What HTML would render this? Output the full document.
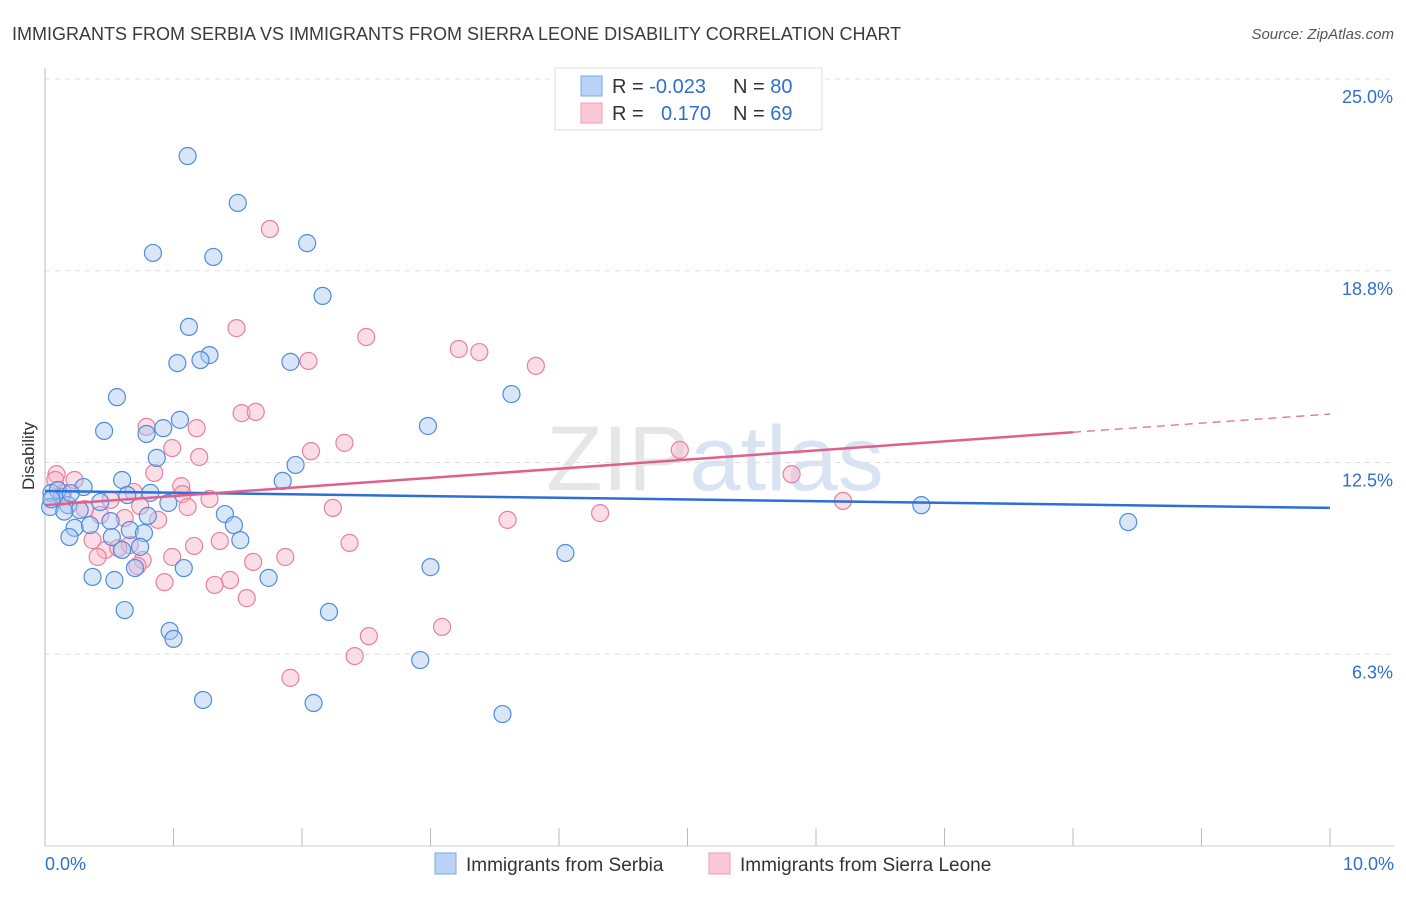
<!DOCTYPE html>
<html><head><meta charset="utf-8"><style>
body{margin:0;background:#fff;font-family:"Liberation Sans",sans-serif}
svg text{font-family:"Liberation Sans",sans-serif}
</style></head><body>
<svg id="chart" width="1406" height="892" xmlns="http://www.w3.org/2000/svg">
<text x="12" y="40" font-size="18" fill="#3a3a3a">IMMIGRANTS FROM SERBIA VS IMMIGRANTS FROM SIERRA LEONE DISABILITY CORRELATION CHART</text>
<text x="1394" y="39" font-size="15" fill="#555" font-style="italic" text-anchor="end">Source: ZipAtlas.com</text>
<text x="715" y="490" font-size="92" text-anchor="middle" fill="#e6e6e6" font-family="Liberation Serif"><tspan>ZIP</tspan><tspan fill="#d8e4f4" font-family="Liberation Sans">atlas</tspan></text>
<g id="grid"></g>
<g id="axes"></g>
<g id="pts"></g>
<g id="trend"></g>
<text transform="translate(34,456) rotate(-90)" font-size="17" fill="#333" text-anchor="middle">Disability</text>
<g>
<rect x="555" y="68" width="267" height="62" fill="#fff" stroke="#ddd"/>
<rect x="581" y="76" width="21" height="20" fill="#b8d3f5" stroke="#7aaae6"/>
<rect x="581" y="103" width="21" height="20" fill="#fbc8d6" stroke="#f09ab4"/>
<text x="612" y="93" font-size="20" fill="#333">R = <tspan fill="#2f6fd0">-0.023</tspan><tspan x="733">N = </tspan><tspan fill="#2f6fd0">80</tspan></text>
<text x="612" y="120" font-size="20" fill="#333">R = <tspan x="661" fill="#2f6fd0">0.170</tspan><tspan x="733">N = </tspan><tspan fill="#2f6fd0">69</tspan></text>
</g>
<g>
<rect x="435" y="853" width="21" height="21" fill="#b8d3f5" stroke="#7aaae6"/>
<text x="466" y="871" font-size="19" fill="#333">Immigrants from Serbia</text>
<rect x="709" y="853" width="21" height="21" fill="#fbc8d6" stroke="#f09ab4"/>
<text x="740" y="871" font-size="19" fill="#333">Immigrants from Sierra Leone</text>
</g>
</svg>
<script>
const blueX=[1.11,1.50,2.04,0.84,1.31,2.16,1.12,1.28,1.21,1.03,1.91,0.56,3.63,1.05,0.46,2.98,0.92,0.79,0.87,1.95,0.60,1.85,0.30,0.64,0.82,0.13,0.05,0.43,0.96,0.04,0.18,0.27,0.51,0.80,1.40,0.23,0.35,0.66,1.47,0.19,0.52,0.77,1.52,0.74,0.60,4.05,1.08,0.70,3.00,0.37,0.54,1.74,0.62,2.21,0.97,1.00,2.92,1.23,2.09,3.56,6.82,8.43,0.10,0.05,0.20,0.15];
const blueY=[22.49,20.96,19.65,19.33,19.20,17.93,16.92,16.00,15.84,15.74,15.78,14.63,14.73,13.89,13.53,13.69,13.62,13.43,12.65,12.42,11.93,11.90,11.70,11.44,11.51,11.38,11.51,11.21,11.18,11.05,11.11,10.95,10.59,10.76,10.82,10.37,10.46,10.30,10.46,10.07,10.07,10.20,9.97,9.75,9.65,9.55,9.06,9.06,9.09,8.77,8.67,8.74,7.69,7.63,7.01,6.75,6.06,4.76,4.66,4.30,11.11,10.56,11.60,11.30,11.50,10.90];
const pinkX=[1.75,1.49,2.50,3.22,3.38,2.05,3.82,1.53,1.64,0.79,1.18,2.33,0.99,2.07,1.20,4.94,0.09,0.85,0.23,5.81,1.06,0.69,1.07,1.28,0.51,6.21,0.14,2.24,1.11,0.74,0.31,4.32,0.88,3.60,0.62,0.43,0.37,0.66,1.36,2.37,1.16,0.47,0.57,1.62,1.87,0.99,0.76,0.41,1.44,1.32,0.93,0.72,1.57,3.09,2.52,2.41,1.91,0.08];
const pinkY=[20.11,16.88,16.59,16.20,16.10,15.81,15.65,14.11,14.15,13.66,13.62,13.14,12.97,12.87,12.68,12.91,12.12,12.16,11.93,12.12,11.73,11.54,11.47,11.31,11.28,11.25,11.51,11.02,11.05,11.08,10.98,10.85,10.63,10.63,10.69,10.79,9.97,9.81,9.94,9.88,9.78,9.65,9.71,9.26,9.42,9.42,9.32,9.42,8.67,8.51,8.60,9.13,8.08,7.14,6.84,6.19,5.48,11.93];
const yTicks=[6.25,12.5,18.75,25];
const yTickLabels=["6.3%","12.5%","18.8%","25.0%"];
const blueTrend=[11.57,11.02];
const pinkTrend=[11.11,14.08];
const NS="http://www.w3.org/2000/svg";
const sx=v=>45+v*128.5, sy=v=>846-v*30.68;
function mk(t,a,p){const e=document.createElementNS(NS,t);for(const k in a)e.setAttribute(k,a[k]);p.appendChild(e);return e;}
const grid=document.getElementById('grid'),axes=document.getElementById('axes'),pts=document.getElementById('pts'),tr=document.getElementById('trend');
yTicks.forEach((t,i)=>{
 const l=mk('line',{x1:45,x2:1394,y1:sy(t),y2:sy(t),stroke:'#ddd','stroke-dasharray':'5,5'},grid);
 
 
 const tx=mk('text',{x:1393,y:sy(t)+24,'font-size':18,fill:'#2f6fd0','text-anchor':'end'},axes);
 tx.textContent=yTickLabels[i];
 
 
});
mk('line',{x1:45,x2:45,y1:68,y2:846,stroke:'#bbb'},axes);
mk('line',{x1:45,x2:1394,y1:846,y2:846,stroke:'#ccc'},axes);
for(let i=0;i<=10;i++){const t=mk('line',{x1:sx(i),x2:sx(i),y1:828,y2:846,stroke:'#bbb'},axes);
 
 }
const x0=mk('text',{x:45,y:870,'font-size':18,fill:'#2f6fd0'},axes);x0.textContent='0.0%';


const x1=mk('text',{x:1394,y:870,'font-size':18,fill:'#2f6fd0','text-anchor':'end'},axes);x1.textContent='10.0%';


function dots(X,Y,fill,stroke,name){X.forEach((x,i)=>{const c=mk('circle',{cx:sx(x),cy:sy(Y[i]),r:8.5,fill:fill,'fill-opacity':0.45,stroke:stroke,'stroke-width':1.2},pts);
 
 });}
dots(pinkX,pinkY,'#f6b3c6','#e8809f','point-sierra-leone');
dots(blueX,blueY,'#a9c8ef','#4f8ce0','point-serbia');
const bl=mk('line',{x1:sx(0),y1:sy(blueTrend[0]),x2:sx(10),y2:sy(blueTrend[1]),stroke:'#2d6fd6','stroke-width':2.5},tr);


const py8=pinkTrend[0]+(pinkTrend[1]-pinkTrend[0])*0.8;
const pl=mk('line',{x1:sx(0),y1:sy(pinkTrend[0]),x2:sx(8),y2:sy(py8),stroke:'#e0608a','stroke-width':2.5},tr);


const pd=mk('line',{x1:sx(8),y1:sy(py8),x2:sx(10),y2:sy(pinkTrend[1]),stroke:'#e0608a','stroke-width':1.2,'stroke-dasharray':'8,6'},tr);


</script>
</body></html>
